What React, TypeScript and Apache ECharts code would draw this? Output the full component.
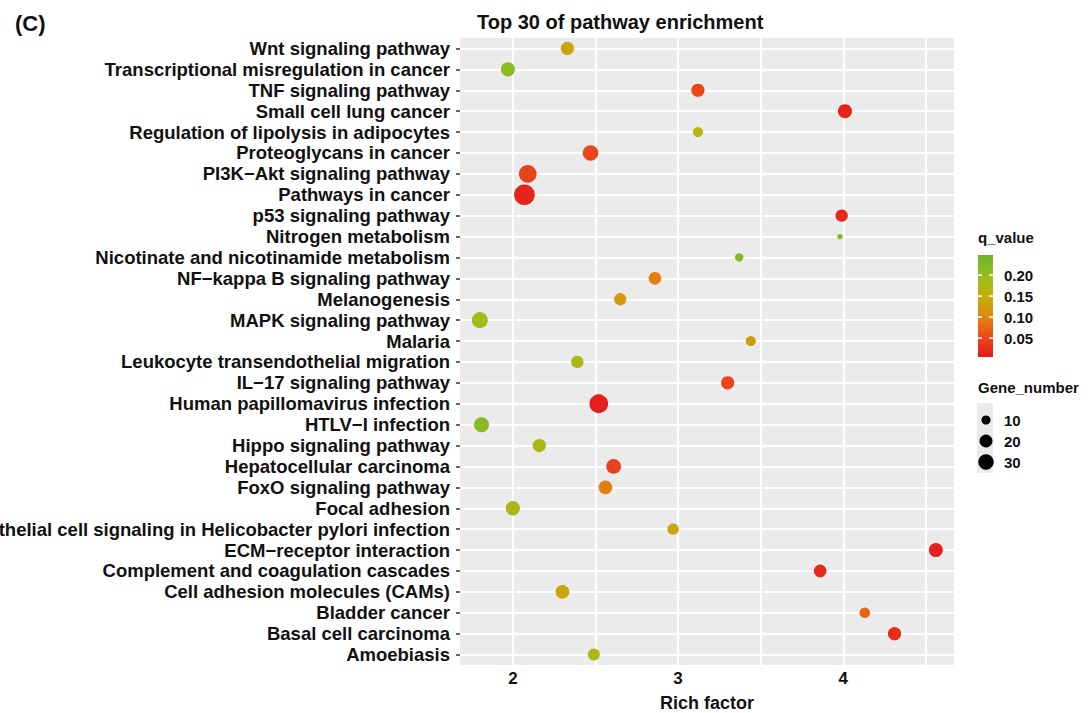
import React, { useEffect, useRef } from "react";
import * as echarts from "echarts";

const pathways = [
  "Wnt signaling pathway",
  "Transcriptional misregulation in cancer",
  "TNF signaling pathway",
  "Small cell lung cancer",
  "Regulation of lipolysis in adipocytes",
  "Proteoglycans in cancer",
  "PI3K\u2212Akt signaling pathway",
  "Pathways in cancer",
  "p53 signaling pathway",
  "Nitrogen metabolism",
  "Nicotinate and nicotinamide metabolism",
  "NF\u2212kappa B signaling pathway",
  "Melanogenesis",
  "MAPK signaling pathway",
  "Malaria",
  "Leukocyte transendothelial migration",
  "IL\u221217 signaling pathway",
  "Human papillomavirus infection",
  "HTLV\u2212I infection",
  "Hippo signaling pathway",
  "Hepatocellular carcinoma",
  "FoxO signaling pathway",
  "Focal adhesion",
  "Epithelial cell signaling in Helicobacter pylori infection",
  "ECM\u2212receptor interaction",
  "Complement and coagulation cascades",
  "Cell adhesion molecules (CAMs)",
  "Bladder cancer",
  "Basal cell carcinoma",
  "Amoebiasis",
];

const richFactor = [
  2.33, 1.97, 3.12, 4.01, 3.12, 2.47, 2.09, 2.07, 3.99, 3.98, 3.37, 2.86, 2.65, 1.8, 3.44,
  2.39, 3.3, 2.52, 1.81, 2.16, 2.61, 2.56, 2.0, 2.97, 4.56, 3.86, 2.3, 4.13, 4.31, 2.49,
];

const qValue = [
  0.135, 0.21, 0.05, 0.015, 0.16, 0.05, 0.045, 0.015, 0.02, 0.22, 0.22, 0.095, 0.125, 0.19,
  0.125, 0.18, 0.05, 0.01, 0.215, 0.18, 0.045, 0.095, 0.18, 0.135, 0.012, 0.022, 0.135,
  0.075, 0.025, 0.18,
];

const geneNumber = [
  21, 24, 21, 24, 12, 31, 42, 61, 18, 7, 9, 19, 18, 33, 12, 18, 21, 48, 28, 21, 27, 23, 25,
  15, 24, 19, 23, 13, 21, 17,
];

const X_MIN = 1.68;
const X_MAX = 4.67;
const xTicks = [2, 3, 4];
const xGrid = [2, 2.5, 3, 3.5, 4, 4.5];
const qTicks = [0.05, 0.1, 0.15, 0.2];
const sizeTicks = [10, 20, 30];

const qMin = 0.005;
const qMax = 0.248;
const qColors = ["#e41a1c", "#eb4b19", "#e08810", "#c2b10a", "#96bf1c", "#6ab42d"];

const sizeFn = (g: number) => 5.5 + 2.07 * Math.sqrt(Math.max(0, g - 7));

const FONT = "'Liberation Sans', Arial, Helvetica, sans-serif";
const INK = "#111111";

export default function App() {
  const ref = useRef<HTMLDivElement>(null);

  useEffect(() => {
    if (!ref.current) return;
    const chart = echarts.init(ref.current, undefined, { renderer: "svg" });

    const rowIdx = pathways.map((_p, i) => i);

    const barTop = 255;
    const barBottom = 357;
    const barX = 978;
    const barW = 15;
    const qToY = (q: number) => barBottom - ((q - qMin) / (qMax - qMin)) * (barBottom - barTop);

    const graphic: any[] = [];
    graphic.push({
      type: "text",
      left: 978,
      top: 230,
      style: { text: "q_value", font: `bold 15px ${FONT}`, fill: INK },
    });
    graphic.push({
      type: "rect",
      shape: { x: barX, y: barTop, width: barW, height: barBottom - barTop },
      style: {
        fill: {
          type: "linear",
          x: 0,
          y: 1,
          x2: 0,
          y2: 0,
          colorStops: qColors.map((c, i) => ({ offset: i / (qColors.length - 1), color: c })),
        },
      },
    });
    qTicks.forEach((q) => {
      const y = qToY(q);
      graphic.push({
        type: "line",
        shape: { x1: barX, y1: y, x2: barX + 4, y2: y },
        style: { stroke: "#ffffff", lineWidth: 1.5 },
      });
      graphic.push({
        type: "line",
        shape: { x1: barX + barW - 4, y1: y, x2: barX + barW, y2: y },
        style: { stroke: "#ffffff", lineWidth: 1.5 },
      });
      graphic.push({
        type: "text",
        x: 1004,
        y: y,
        style: {
          text: q.toFixed(2),
          font: `bold 15px ${FONT}`,
          fill: INK,
          verticalAlign: "middle",
        },
      });
    });

    graphic.push({
      type: "text",
      left: 978,
      top: 380,
      style: { text: "Gene_number", font: `bold 15px ${FONT}`, fill: INK },
    });
    graphic.push({
      type: "rect",
      shape: { x: 977, y: 403, width: 16, height: 70 },
      style: { fill: "#ebebeb" },
    });
    sizeTicks.forEach((g, i) => {
      const cy = 420 + i * 21;
      graphic.push({
        type: "circle",
        shape: { cx: 986, cy, r: sizeFn(g) / 2 },
        style: { fill: "#000000" },
      });
      graphic.push({
        type: "text",
        x: 1004,
        y: cy,
        style: { text: String(g), font: `bold 15px ${FONT}`, fill: INK, verticalAlign: "middle" },
      });
    });

    chart.setOption({
      animation: false,
      backgroundColor: "#ffffff",
      textStyle: { fontFamily: FONT },
      title: [
        {
          text: "Top 30 of pathway enrichment",
          left: 472,
          top: 7,
          textStyle: { fontSize: 20, fontWeight: "bold", color: INK, fontFamily: FONT },
        },
        {
          text: "(C)",
          left: 10,
          top: 7,
          textStyle: { fontSize: 22, fontWeight: "bold", color: INK, fontFamily: FONT },
        },
      ],
      grid: {
        left: 460,
        right: 134,
        top: 38,
        bottom: 48,
        containLabel: false,
        outerBoundsMode: "none",
        show: true,
        backgroundColor: "#ebebeb",
        borderWidth: 0,
      },
      xAxis: {
        type: "value",
        min: X_MIN,
        max: X_MAX,
        name: "Rich factor",
        nameLocation: "middle",
        nameGap: 29,
        nameTextStyle: { fontSize: 18, fontWeight: "bold", color: INK, fontFamily: FONT },
        axisLine: { show: false },
        splitLine: { show: false },
        axisTick: {
          show: true,
          length: 3,
          lineStyle: { color: "#333333" },
          customValues: xTicks,
        },
        axisLabel: {
          customValues: xTicks,
          fontSize: 17,
          fontWeight: "bold",
          color: INK,
          margin: 5,
          fontFamily: FONT,
        },
      },
      yAxis: {
        type: "value",
        min: -0.5,
        max: pathways.length - 0.5,
        inverse: true,
        axisLine: { show: false },
        axisTick: {
          show: true,
          customValues: rowIdx,
          length: 4,
          lineStyle: { color: "#333333", width: 1.5 },
        },
        axisLabel: {
          customValues: rowIdx,
          formatter: (v: number) => pathways[Math.round(v)] ?? "",
          hideOverlap: false,
          showMinLabel: true,
          showMaxLabel: true,
          fontSize: 18.5,
          fontWeight: "bold",
          color: INK,
          margin: 10,
          fontFamily: FONT,
        },
        splitLine: {
          show: true,
          lineStyle: { color: "#ffffff", width: 2, type: "solid" },
        },
      },
      visualMap: {
        show: false,
        type: "continuous",
        min: qMin,
        max: qMax,
        dimension: 2,
        seriesIndex: 0,
        inRange: { color: qColors },
      },
      series: [
        {
          type: "scatter",
          z: 5,
          data: pathways.map((_p, i) => [richFactor[i], i, qValue[i], geneNumber[i]]),
          symbolSize: (d: any) => sizeFn(d[3]),
          itemStyle: { opacity: 1 },
          markLine: {
            z: 1,
            silent: true,
            symbol: "none",
            animation: false,
            label: { show: false },
            emphasis: { disabled: true },
            lineStyle: { color: "#ffffff", width: 2, type: "solid", opacity: 1 },
            data: xGrid.map((v) => ({ xAxis: v })),
          },
        },
      ],
      graphic,
    });

    return () => chart.dispose();
  }, []);

  return (
    <div
      ref={ref}
      style={{ position: "absolute", left: 0, top: 0, width: 1088, height: 713 }}
    />
  );
}
